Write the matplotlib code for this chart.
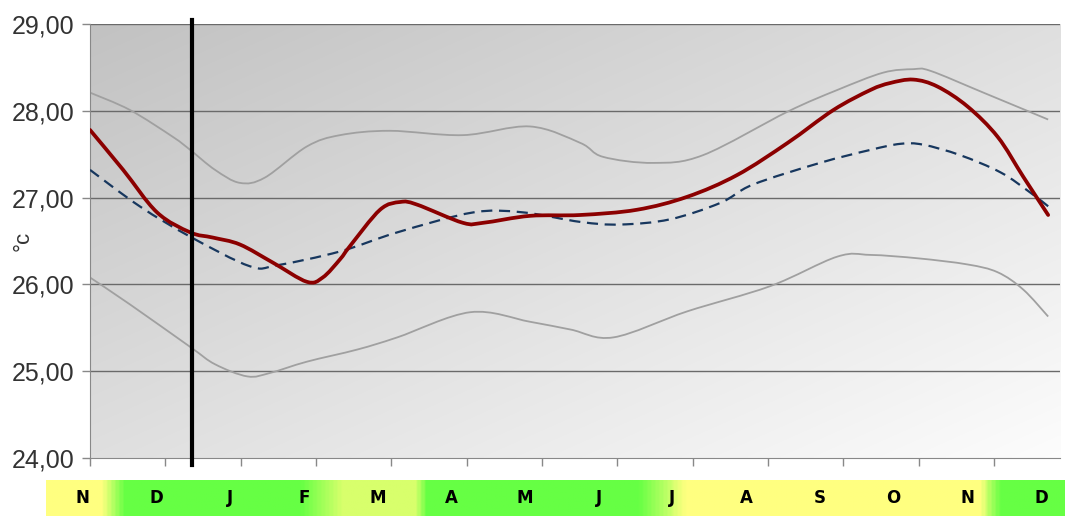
import numpy as np
import matplotlib
matplotlib.use('Agg')
import matplotlib.pyplot as plt
from matplotlib.ticker import FuncFormatter
from matplotlib.colors import LinearSegmentedColormap
from matplotlib.path import Path
from matplotlib.patches import PathPatch

# month labels on the coloured band
months = ['N', 'D', 'J', 'F', 'M', 'A', 'M', 'J', 'J', 'A', 'S', 'O', 'N', 'D']

# x in months from the start of the axis (0 = first tick)
red_x = [0.00, 0.44, 0.89, 1.33, 1.63, 1.99, 2.43, 2.88, 3.09, 3.32, 3.45, 3.85, 4.12,
         4.34, 4.95, 5.22, 5.84, 6.51, 7.26, 7.93, 8.59, 9.26, 9.87, 10.36, 10.62,
         10.93, 11.25, 11.65, 12.05, 12.39, 12.72]
red_y = [27.78, 27.32, 26.83, 26.60, 26.54, 26.46, 26.25, 26.03, 26.08, 26.29, 26.44,
         26.86, 26.95, 26.92, 26.71, 26.71, 26.79, 26.80, 26.86, 27.01, 27.26, 27.63,
         28.01, 28.24, 28.32, 28.36, 28.28, 28.05, 27.70, 27.24, 26.80]

mean_x = [0.00, 0.66, 1.33, 2.12, 2.48, 3.32, 4.08, 5.09, 5.75, 6.51, 7.04, 7.70, 8.37,
          8.80, 9.69, 10.36, 10.76, 11.06, 11.55, 12.09, 12.48, 12.72]
mean_y = [27.32, 26.90, 26.55, 26.21, 26.22, 26.38, 26.60, 26.83, 26.83, 26.72, 26.69,
          26.75, 26.94, 27.15, 27.40, 27.55, 27.62, 27.61, 27.49, 27.29, 27.06, 26.90]

hi_x = [0.00, 0.53, 1.10, 1.33, 1.66, 1.99, 2.32, 2.88, 3.32, 3.98, 4.95, 5.84, 6.51,
        6.81, 7.48, 8.14, 9.26, 9.92, 10.53, 10.93, 11.16, 11.86, 12.72]
hi_y = [28.21, 28.01, 27.70, 27.55, 27.32, 27.17, 27.23, 27.59, 27.72, 27.77, 27.72,
        27.82, 27.63, 27.47, 27.40, 27.49, 27.99, 28.24, 28.44, 28.48, 28.46, 28.21, 27.90]

lo_x = [0.00, 0.53, 1.33, 1.66, 2.09, 2.39, 2.88, 3.55, 4.08, 5.05, 5.84, 6.38, 6.95,
        7.93, 9.03, 9.92, 10.36, 11.00, 11.65, 12.05, 12.39, 12.72]
lo_y = [26.08, 25.77, 25.28, 25.08, 24.94, 24.98, 25.11, 25.25, 25.39, 25.68, 25.57,
        25.48, 25.39, 25.69, 25.98, 26.32, 26.34, 26.30, 26.23, 26.14, 25.94, 25.63]

now_x = 1.35  # the black marker line


def smooth(x, y):
    # smoothed line like excel: bezier segments through the points
    pts = np.column_stack([x, y])
    n = len(pts)
    verts = [pts[0]]
    codes = [Path.MOVETO]
    for i in range(n - 1):
        p0 = pts[max(i - 1, 0)]
        p1 = pts[i]
        p2 = pts[i + 1]
        p3 = pts[min(i + 2, n - 1)]
        verts += [p1 + (p2 - p0) / 6, p2 - (p3 - p1) / 6, p2]
        codes += [Path.CURVE4] * 3
    return Path(verts, codes)


fig = plt.figure(figsize=(10.65, 5.16), dpi=100)
ax = fig.add_axes([0.0845, 0.1124, 0.911, 0.841])

xmax = 12.88
ax.set_xlim(0, xmax)
ax.set_ylim(24, 29)

# diagonal grey gradient background, darker top-left
u = np.linspace(0, 1, 300)
v = np.linspace(0, 1, 200)
U, V = np.meshgrid(u, v)
g = (U + V) / 2
bg = np.dstack([0.76 + 0.23 * g] * 3)
ax.imshow(bg, extent=[0, xmax, 24, 29], aspect='auto', zorder=0, interpolation='bilinear')
ax.set_xlim(0, xmax)
ax.set_ylim(24, 29)

for yv in range(25, 30):
    ax.axhline(yv, color='#6a6a6a', lw=1, zorder=1)

ax.add_patch(PathPatch(smooth(hi_x, hi_y), fc='none', ec='#a0a0a0', lw=1.3, zorder=2))
ax.add_patch(PathPatch(smooth(lo_x, lo_y), fc='none', ec='#a0a0a0', lw=1.3, zorder=2))
ax.add_patch(PathPatch(smooth(mean_x, mean_y), fc='none', ec='#17375e', lw=1.6,
                       ls=(0, (5, 3)), zorder=3))
ax.add_patch(PathPatch(smooth(red_x, red_y), fc='none', ec='#8b0000', lw=2.7,
                       capstyle='round', zorder=4))
ax.axvline(now_x, ymin=-0.015, ymax=1.01, color='black', lw=3, zorder=5, clip_on=False)

for s in ['top', 'right']:
    ax.spines[s].set_visible(False)
for s in ['left', 'bottom']:
    ax.spines[s].set_color('#888888')
ax.set_xticks(range(0, 13))
ax.set_xticklabels([])
ax.set_yticks(range(24, 30))
ax.yaxis.set_major_formatter(FuncFormatter(lambda val, p: f"{val:.2f}".replace('.', ',')))
ax.tick_params(axis='both', colors='#888888', length=6, width=1)
ax.tick_params(axis='y', labelcolor='#333333', labelsize=18, pad=5)
for lab in ax.get_yticklabels():
    lab.set_family('Liberation Sans')
ax.set_ylabel('°c', fontsize=16, color='#333333', family='Liberation Sans')
ax.yaxis.set_label_coords(-0.058, 0.5)

# coloured month band
band = fig.add_axes([46 / 1065, 0, 1 - 46 / 1065, 36 / 516])
bw = (1065 - 46) / 73.7
yel = '#ffff80'
grn = '#66ff44'
lite = '#d8ff6c'
stops = [(0.0, yel), (0.72, yel), (1.02, grn), (3.45, grn), (4.0, lite), (5.0, lite),
         (5.15, grn), (8.05, grn), (8.7, yel), (12.7, yel), (13.0, grn), (bw, grn)]
cmap = LinearSegmentedColormap.from_list('band', [(p / bw, c) for p, c in stops])
band.imshow(np.linspace(0, 1, 500)[None, :], cmap=cmap, aspect='auto',
            extent=[0, bw, 0, 1], interpolation='bilinear')
band.set_xlim(0, bw)
band.set_ylim(0, 1)
band.axis('off')
for i, m in enumerate(months):
    band.text(i + 0.5, 0.5, m, ha='center', va='center', fontsize=12,
              fontweight='bold', color='black')

fig.savefig('out.png', dpi=100)
